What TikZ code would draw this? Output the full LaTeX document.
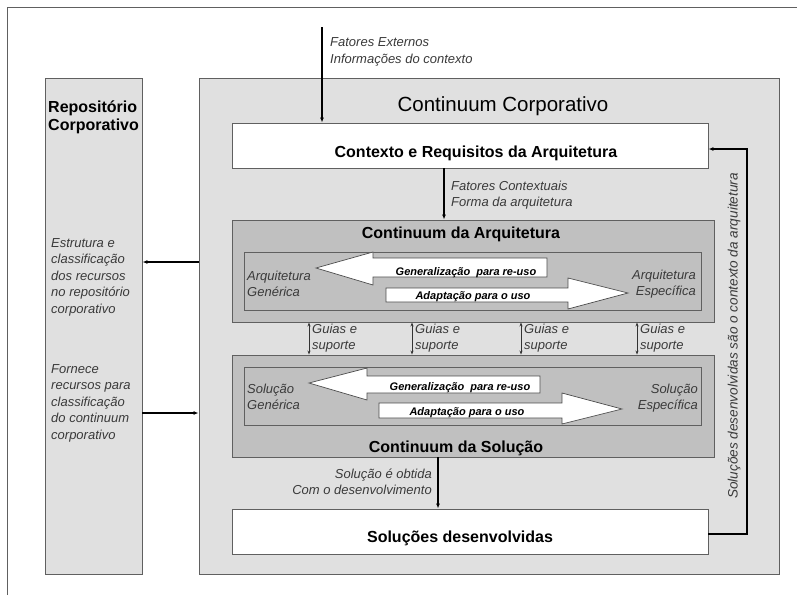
\documentclass[tikz,border=0pt]{standalone}
\usepackage{fontspec}
\setmainfont{Liberation Sans}
\usetikzlibrary{arrows.meta}
\definecolor{paleback}{HTML}{E0E0E0}
\definecolor{midback}{HTML}{C0C0C0}
\definecolor{edgegray}{HTML}{606060}
\definecolor{labelgray}{HTML}{3A3A3A}
\tikzset{
  panel/.style={draw=edgegray, line width=0.9pt, inner sep=0pt},
  lbl/.style={font=\fontsize{13}{16.5}\selectfont\itshape, text=labelgray, inner sep=0pt},
  ttl/.style={font=\fontsize{16}{18}\selectfont\bfseries, inner sep=0pt},
  tag/.style={font=\fontsize{11}{12}\selectfont\bfseries\itshape, inner sep=0pt},
  arr/.style={-{Latex[length=5pt,width=4pt]}, line width=1.1pt},
  guide/.style={{Stealth[length=4pt,width=3pt]}-{Stealth[length=4pt,width=3pt]}, line width=0.7pt, draw=black!80},
  blockarrow/.style={draw=black!70, fill=white, line width=0.7pt, line join=miter},
}
\begin{document}
\begin{tikzpicture}[x=1pt,y=-1pt]
\useasboundingbox (0,0) rectangle (797,595);
\fill[white] (0,0) rectangle (797,595);

% page frame (left and top edges)
\draw[edgegray, line width=0.8pt] (7,595) -- (7,7) -- (797,7);

% main panels
\node[panel, fill=paleback, minimum width=97pt, minimum height=496pt] (repo) at (93.5,326) {};
\node[panel, fill=paleback, minimum width=580pt, minimum height=496pt] (corp) at (489,326) {};
\node[panel, fill=white, minimum width=476pt, minimum height=45pt] (ctx) at (470,145.5) {};
\node[panel, fill=midback, minimum width=482pt, minimum height=102pt] (arq) at (473,271) {};
\node[panel, fill=midback, minimum width=457pt, minimum height=58pt] (arqin) at (472.5,281) {};
\node[panel, fill=midback, minimum width=482pt, minimum height=102pt] (sol) at (473,406) {};
\node[panel, fill=midback, minimum width=457pt, minimum height=58pt] (solin) at (472.5,396) {};
\node[panel, fill=white, minimum width=476pt, minimum height=45pt] (dev) at (470,531.5) {};

% titles (multi-line nodes sit on the baseline of their last line)
\node[ttl, align=left, anchor=base west] (repotitle) at (48,130) {Repositório\\Corporativo};
\node[font=\fontsize{20.5}{22}\selectfont, inner sep=0pt, anchor=base] (corptitle) at (503,111.5) {Continuum Corporativo};
\node[ttl, anchor=base] (ctxtitle) at (476,157) {Contexto e Requisitos da Arquitetura};
\node[ttl, anchor=base] (arqtitle) at (461,238) {Continuum da Arquitetura};
\node[ttl, anchor=base] (soltitle) at (456,452) {Continuum da Solução};
\node[ttl, anchor=base] (devtitle) at (460,542) {Soluções desenvolvidas};

% block arrows inside the architecture continuum
\draw[blockarrow] (316,268) -- (373,252) -- (373,258) -- (547,258) -- (547,277) -- (373,277) -- (373,285) -- cycle;
\draw[blockarrow] (386,288) -- (568,288) -- (568,278) -- (628,293) -- (568,309) -- (568,302) -- (386,302) -- cycle;
\node[tag, anchor=base] (arqgen) at (466,275) {Generalização\ \ para re-uso};
\node[tag, anchor=base] (arqada) at (473,299) {Adaptação para o uso};
\node[lbl, align=left, anchor=base west] (arqg) at (247,296.5) {Arquitetura\\Genérica};
\node[lbl, align=right, anchor=base east] (arqe) at (696,295.5) {Arquitetura\\Específica};

% block arrows inside the solution continuum
\draw[blockarrow] (309,383) -- (367,368) -- (367,376) -- (540,376) -- (540,393) -- (367,393) -- (367,400) -- cycle;
\draw[blockarrow] (379,403) -- (562,403) -- (562,393) -- (622,409) -- (562,424) -- (562,418) -- (379,418) -- cycle;
\node[tag, anchor=base] (solgen) at (460,390) {Generalização\ \ para re-uso};
\node[tag, anchor=base] (solada) at (467,415) {Adaptação para o uso};
\node[lbl, align=left, anchor=base west] (solg) at (247,409.5) {Solução\\Genérica};
\node[lbl, align=right, anchor=base east] (sole) at (698,409.5) {Solução\\Específica};

% external input into the context
\coordinate (ext) at (322,27);
\draw[arr] (ext) -- (ext |- ctx.north);
\node[lbl, align=left, anchor=base west] (extlbl) at (330,63) {Fatores Externos\\Informações do contexto};

% context to architecture continuum
\coordinate (cx) at (444,0);
\draw[arr] (ctx.south -| cx) -- (arq.north -| cx);
\node[lbl, align=left, anchor=base west] (cxlbl) at (451,206.5) {Fatores Contextuais\\Forma da arquitetura};

% guidance and support between the two continua
\foreach \gx [count=\i] in {309,412,521,637} {
  \coordinate (g\i) at (\gx,0);
  \draw[guide] (arq.south -| g\i) -- (sol.north -| g\i);
  \node[lbl, align=left, anchor=base west] (gl\i) at (\gx+3,349.5) {Guias e\\suporte};
}

% solution continuum to developed solutions
\coordinate (sx) at (438,0);
\draw[arr] (sol.south -| sx) -- (dev.north -| sx);
\node[lbl, align=right, anchor=base east] (sxlbl) at (432,494.5) {Solução é obtida\\Com o desenvolvimento};

% feedback loop from developed solutions to the context
\coordinate (fb) at (747,0);
\coordinate (devfb) at ([yshift=-2.5pt]dev.east);
\coordinate (ctxfb) at ([yshift=-3.5pt]ctx.east);
\draw[arr] (devfb) -| (fb |- ctxfb) -- (ctxfb);
\node[font=\fontsize{13.6}{16}\selectfont\itshape, text=labelgray, inner sep=0pt, rotate=90] (fblbl) at (734,336) {Soluções desenvolvidas são o contexto da arquitetura};

% exchanges with the corporate repository
\coordinate (ly1) at (0,262);
\coordinate (ly2) at (0,413);
\draw[arr] (corp.west |- ly1) -- (repo.east |- ly1);
\draw[arr] (repo.east |- ly2) -- (corp.west |- ly2);
\node[lbl, align=left, anchor=base west] (repo1) at (51,313) {Estrutura e\\classificação\\dos recursos\\no repositório\\corporativo};
\node[lbl, align=left, anchor=base west] (repo2) at (51,439) {Fornece\\recursos para\\classificação\\do continuum\\corporativo};
\end{tikzpicture}
\end{document}
